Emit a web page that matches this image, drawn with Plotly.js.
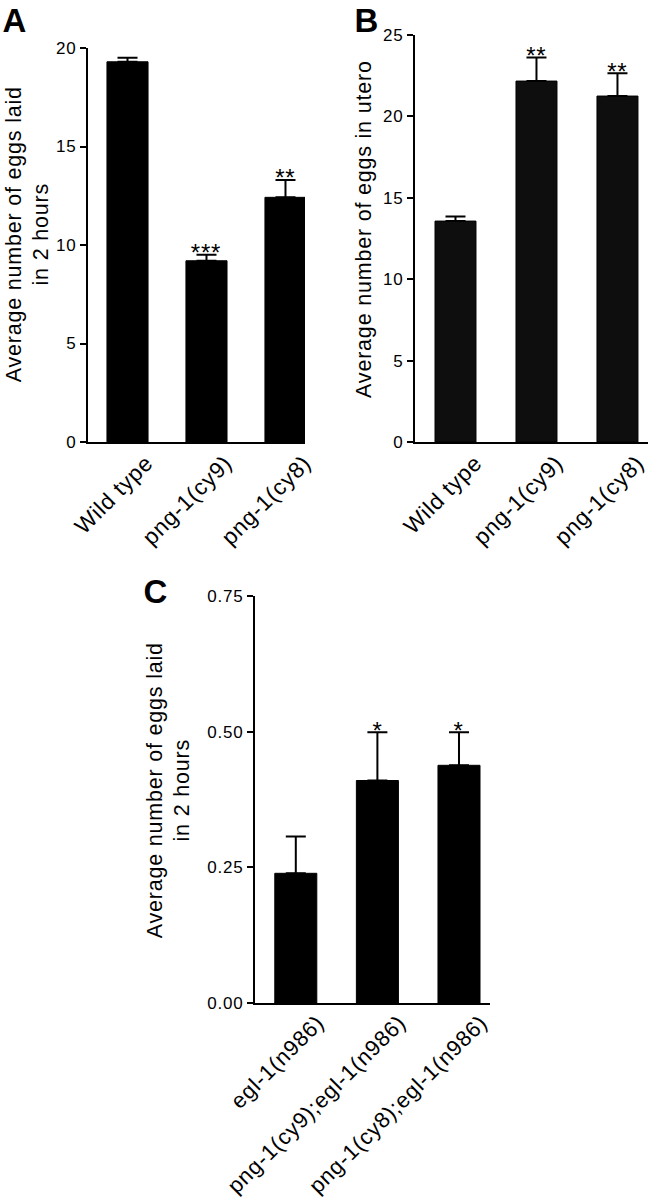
<!DOCTYPE html>
<html>
<head>
<meta charset="utf-8">
<script src="https://cdn.plot.ly/plotly-3.0.1.min.js"></script>
<style>
html,body{margin:0;padding:0;background:#fff;}
#chart{width:649px;height:1199px;}
#chart text{letter-spacing:0.8px;}
</style>
</head>
<body>
<div id="chart"></div>
<script>
// ---- data ----
const categoriesAB = ['Wild type', 'png-1(cy9)', 'png-1(cy8)'];
const eggsLaidA = [19.3, 9.2, 12.42];
const eggsLaidAErr = [0.2, 0.3, 0.88];
const starsA = ['', '***', '**'];

const eggsInUteroB = [13.57, 22.17, 21.25];
const eggsInUteroBErr = [0.28, 1.45, 1.4];
const starsB = ['', '**', '**'];

const categoriesC = ['egl-1(n986)', 'png-1(cy9);egl-1(n986)', 'png-1(cy8);egl-1(n986)'];
const eggsLaidC = [0.239, 0.41, 0.438];
const eggsLaidCErr = [0.068, 0.089, 0.061];
const starsC = ['', '*', '*'];

const yTicksA = [0, 5, 10, 15, 20];
const yTicksB = [0, 5, 10, 15, 20, 25];
const yTicksC = [0, 0.25, 0.5, 0.75];
const yTickTextC = ['0.00', '0.25', '0.50', '0.75'];

// ---- layout helpers ----
const W = 649, H = 1199;
const FONT = 'Liberation Sans, Arial, sans-serif';
const px = v => v / W;
const py = v => 1 - v / H;

function barTrace(cats, vals, errs, xa, ya, width, color) {
  return {
    type: 'bar', x: cats, y: vals, xaxis: xa, yaxis: ya, width: width,
    marker: {color: color, line: {color: '#000', width: 1}},
    error_y: {type: 'data', symmetric: false, array: errs, arrayminus: errs.map(() => 0),
              color: '#000', thickness: 2, width: 10},
    showlegend: false, hoverinfo: 'x+y'
  };
}
function yAxis(domain, range, tickvals, ticktext, anchor) {
  return {
    domain: domain, range: range, anchor: anchor, tickmode: 'array', tickvals: tickvals,
    ticktext: ticktext, ticks: 'outside', ticklen: 6, tickwidth: 2, tickcolor: '#000',
    showline: true, linewidth: 2, linecolor: '#000', showgrid: false, zeroline: false,
    tickfont: {family: FONT, size: 17, color: '#000'}, fixedrange: true
  };
}
function xAxis(domain, range, anchor, shift, standoff, size) {
  return {
    domain: domain, range: range, anchor: anchor, type: 'category', ticks: '',
    showline: true, linewidth: 2, linecolor: '#000', showgrid: false, zeroline: false,
    tickangle: -45, ticklabelshift: shift, ticklabelstandoff: standoff,
    tickfont: {family: FONT, size: size, color: '#000'}, fixedrange: true
  };
}
function starAnn(cats, vals, errs, stars, xr, yr, size, shift) {
  return cats.map((c, i) => ({
    x: c, y: vals[i] + errs[i], xref: xr, yref: yr, text: stars[i], showarrow: false,
    yanchor: 'bottom', yshift: shift, font: {family: FONT, size: size, color: '#000'}
  })).filter(a => a.text);
}

const traces = [
  barTrace(categoriesAB, eggsLaidA, eggsLaidAErr, 'x', 'y', 0.52, '#000'),
  barTrace(categoriesAB, eggsInUteroB, eggsInUteroBErr, 'x2', 'y2', 0.506, '#0e0e0e'),
  barTrace(categoriesC, eggsLaidC, eggsLaidCErr, 'x3', 'y3', 0.515, '#000')
];

const titleFont = {family: FONT, size: 21.5, color: '#000'};
const layout = {
  width: W, height: H, margin: {l: 0, r: 0, t: 0, b: 0},
  paper_bgcolor: '#fff', plot_bgcolor: 'rgba(0,0,0,0)', showlegend: false,
  font: {family: FONT, color: '#000'},
  xaxis: xAxis([px(88), px(305)], [-0.5, 2.247], 'y', 19, -3, 22.5),
  yaxis: yAxis([py(442), py(48)], [0, 20], yTicksA, yTicksA.map(String), 'x'),
  xaxis2: xAxis([px(415), px(648)], [-0.5, 2.377], 'y2', 20, -3, 22.5),
  yaxis2: yAxis([py(442), py(35)], [0, 25], yTicksB, yTicksB.map(String), 'x2'),
  xaxis3: xAxis([px(255), px(490)], [-0.5, 2.38], 'y3', 22, -4, 22),
  yaxis3: yAxis([py(1003), py(596)], [0, 0.75], yTicksC, yTickTextC, 'x3'),
  annotations: [
    {text: 'Average number of eggs laid<br>in 2 hours', textangle: -90, xref: 'paper', yref: 'paper',
     x: px(27.5), y: py(234), xanchor: 'center', yanchor: 'middle', showarrow: false, font: titleFont},
    {text: 'Average number of eggs in utero', textangle: -90, xref: 'paper', yref: 'paper',
     x: px(363.5), y: py(229), xanchor: 'center', yanchor: 'middle', showarrow: false, font: titleFont},
    {text: 'Average number of eggs laid<br>in 2 hours', textangle: -90, xref: 'paper', yref: 'paper',
     x: px(168.5), y: py(790), xanchor: 'center', yanchor: 'middle', showarrow: false, font: titleFont},
    {text: '<b>A</b>', xref: 'paper', yref: 'paper', x: px(1), y: 1, xanchor: 'left', yanchor: 'top',
     showarrow: false, font: {family: FONT, size: 33, color: '#000'}},
    {text: '<b>B</b>', xref: 'paper', yref: 'paper', x: px(353), y: 1, xanchor: 'left', yanchor: 'top',
     showarrow: false, font: {family: FONT, size: 33, color: '#000'}},
    {text: '<b>C</b>', xref: 'paper', yref: 'paper', x: px(142), y: py(571), xanchor: 'left', yanchor: 'top',
     showarrow: false, font: {family: FONT, size: 33, color: '#000'}}
  ].concat(
    starAnn(categoriesAB, eggsLaidA, eggsLaidAErr, starsA, 'x', 'y', 24, -13.5),
    starAnn(categoriesAB, eggsInUteroB, eggsInUteroBErr, starsB, 'x2', 'y2', 24, -13.5),
    starAnn(categoriesC, eggsLaidC, eggsLaidCErr, starsC, 'x3', 'y3', 24, -13.5)
  )
};

Plotly.newPlot('chart', traces, layout, {displayModeBar: false, staticPlot: true});
</script>
</body>
</html>
